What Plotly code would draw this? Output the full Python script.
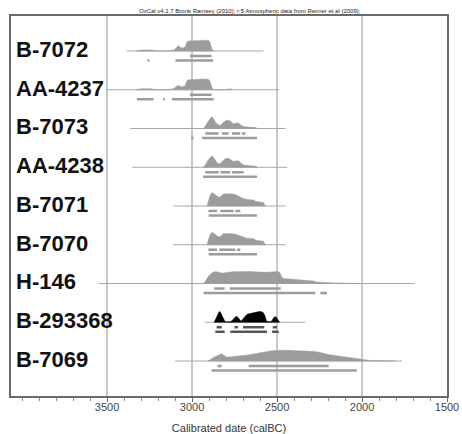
import plotly.graph_objects as go

# ---------------- data ----------------
labels = ["B-7072", "AA-4237", "B-7073", "AA-4238", "B-7071",
          "B-7070", "H-146", "B-293368", "B-7069"]

# extent of the thin baseline of each likelihood (calBC)
line_start = [3385, 3505, 3365, 3355, 3110, 3110, 3550, 2925, 3100]
line_end = [2580, 2485, 2450, 2440, 2450, 2450, 1690, 2335, 1765]

# probability distributions (year, relative density)
b7072_years = [3330, 3300, 3270, 3240, 3215, 3180, 3160, 3140, 3105, 3090, 3080, 3068, 3055,
               3040, 3030, 3020, 3000, 2980, 2960, 2940, 2920, 2905, 2895, 2885, 2875]
b7072_dens = [0, 1, 1, 1, 0, 0, 0.7, 0, 1, 4, 5.5, 3.5, 3,
              4, 9, 10, 10.2, 10.5, 10.5, 11, 11, 10.8, 9, 3, 0]

aa4237_years = [3330, 3300, 3270, 3240, 3215, 3170, 3160, 3150, 3110, 3090, 3080, 3068, 3055,
                3040, 3030, 3020, 3000, 2980, 2960, 2940, 2920, 2905, 2895, 2885, 2875,
                2800, 2790, 2770, 2760]
aa4237_dens = [0, 1, 1, 1, 0, 0, 0.8, 0, 1, 3.5, 4.5, 3, 3,
               4, 9, 10, 10, 10.3, 10.5, 10.8, 10.8, 10.5, 9, 3, 0,
               0, 0.8, 0.8, 0]

b7073_years = [2935, 2922, 2910, 2895, 2885, 2878, 2865, 2850, 2835, 2825, 2810, 2795, 2780,
               2770, 2760, 2750, 2740, 2728, 2718, 2705, 2690, 2670, 2640, 2625, 2615]
b7073_dens = [0, 2, 6, 10, 11.7, 11, 7, 4, 3.3, 4.5, 7, 8.3, 8,
              6.5, 5, 5, 5.5, 5.7, 4, 2.5, 1.7, 1.7, 1.5, 1, 0]

aa4238_years = [2935, 2922, 2910, 2895, 2885, 2878, 2865, 2850, 2835, 2825, 2810, 2795, 2780,
                2770, 2760, 2750, 2740, 2728, 2718, 2705, 2690, 2670, 2640, 2625, 2615]
aa4238_dens = [0, 2, 6, 10, 11.3, 10.8, 7, 4, 3.5, 5, 8, 9, 8.7,
               7, 6, 6, 6.5, 6.7, 5, 3, 2, 1.8, 1.5, 1, 0]

b7071_years = [2912, 2905, 2895, 2885, 2878, 2865, 2850, 2835, 2825, 2815, 2800, 2780,
               2760, 2745, 2730, 2716, 2700, 2676, 2650, 2637, 2625, 2600, 2580, 2568]
b7071_dens = [0, 5, 10, 13, 13.3, 11.5, 9.5, 9, 10.5, 12, 12.3, 12.3,
              12, 11.5, 10, 9, 7.5, 6.5, 6.3, 6, 4.5, 4, 3.5, 0]

b7070_years = [2912, 2905, 2895, 2885, 2878, 2865, 2850, 2835, 2825, 2815, 2800, 2780,
               2760, 2745, 2730, 2716, 2700, 2676, 2650, 2637, 2625, 2600, 2580, 2568]
b7070_dens = [0, 4.5, 9.5, 12, 12.3, 10.5, 8.5, 8, 9.5, 11, 11.3, 11.3,
              11, 10.5, 9.5, 9, 7.5, 6.5, 6.3, 6, 4.5, 4, 3.5, 0]

h146_years = [2935, 2922, 2905, 2892, 2880, 2870, 2860, 2845, 2830, 2815, 2800, 2780, 2760,
              2740, 2720, 2700, 2680, 2660, 2640, 2620, 2600, 2580, 2560, 2540, 2520, 2505,
              2492, 2480, 2471, 2460, 2440, 2420, 2400, 2380, 2360, 2340, 2320, 2304, 2286,
              2270, 2250, 2230, 2210, 2190, 2150, 2100, 2050, 2010]
h146_dens = [0, 2, 7, 9.5, 11, 11.5, 12, 11.3, 10.5, 10.5, 11, 11.5, 11.8,
             11.8, 12, 12, 11.8, 12, 11.7, 11.5, 11.3, 11, 11.2, 11.5, 12, 12.3,
             12, 10, 6, 5, 4.7, 4.5, 4.3, 4.3, 4, 3.5, 3, 2.7, 2.5,
             1.5, 1.2, 1, 1, 0.8, 0.5, 0.4, 0.3, 0]

b293368_years = [2870, 2860, 2850, 2840, 2832, 2822, 2812, 2805, 2775, 2762, 2750, 2740,
                 2730, 2720, 2712, 2702, 2690, 2678, 2665, 2650, 2635, 2620, 2605, 2590,
                 2580, 2570, 2562, 2540, 2530, 2520, 2510, 2500, 2490, 2485]
b293368_dens = [0, 3, 7, 10.7, 10, 6, 2, 0.5, 0.5, 2, 4.5, 6,
                5, 2, 1, 3, 6, 7.7, 8.5, 9, 10, 10.5, 10.7, 10.5,
                9.5, 6, 1, 0.5, 1.5, 4.5, 5.7, 4, 1, 0]

b7069_years = [2905, 2890, 2870, 2855, 2838, 2825, 2815, 2800, 2780, 2760, 2740, 2720, 2700,
               2680, 2660, 2640, 2620, 2600, 2580, 2560, 2540, 2520, 2500, 2480, 2460, 2440,
               2420, 2400, 2380, 2360, 2340, 2320, 2300, 2280, 2260, 2240, 2220, 2200, 2180,
               2160, 2140, 2120, 2100, 2080, 2060, 2040, 2020, 2000, 1980, 1950, 1900, 1850, 1800]
b7069_dens = [0, 2, 4, 5, 6, 7.3, 6, 4, 4, 4.2, 4.5, 5, 5.5,
              5.8, 6.2, 7, 7.5, 8.2, 9, 9.5, 10, 10.3, 10.6, 10.7, 10.8, 10.7,
              10.6, 10.5, 10.4, 10.3, 10.2, 10, 9.8, 9.5, 9, 8.5, 7.5, 6.5, 6,
              5.5, 5, 4.3, 4, 3.5, 3, 2.5, 2, 1.2, 0.8, 0.5, 0.3, 0.2, 0]

dist_years = [b7072_years, aa4237_years, b7073_years, aa4238_years, b7071_years,
              b7070_years, h146_years, b293368_years, b7069_years]
dist_dens = [b7072_dens, aa4237_dens, b7073_dens, aa4238_dens, b7071_dens,
             b7070_dens, h146_dens, b293368_dens, b7069_dens]

# highest-density ranges (from, to) in calBC
range68 = [
    [(3012, 2885)],
    [(3012, 2885)],
    [(2922, 2844), (2824, 2785), (2765, 2716), (2706, 2686)],
    [(2922, 2844), (2833, 2775), (2765, 2696)],
    [(2904, 2853), (2833, 2755), (2745, 2716)],
    [(2904, 2853), (2840, 2745), (2735, 2716)],
    [(2870, 2808), (2778, 2478)],
    [(2855, 2825), (2750, 2730), (2700, 2575), (2525, 2500)],
    [(2850, 2825), (2667, 2196)],
]
range95 = [
    [(3262, 3250), (3098, 2875)],
    [(3324, 3226), (3170, 3160), (3118, 2873)],
    [(3005, 2990), (2941, 2618)],
    [(2935, 2618)],
    [(2902, 2618)],
    [(2902, 2618)],
    [(2932, 2275), (2245, 2206)],
    [(2863, 2808), (2775, 2559), (2529, 2490)],
    [(2885, 2030)],
]
black_rows = ["B-293368"]

x_ticks = [3500, 3000, 2500, 2000, 1500]
title_text = "OxCal v4.1.7 Bronk Ramsey (2010); r:5 Atmospheric data from Reimer et al (2009);"
x_title = "Calibrated date (calBC)"

# ---------------- styling ----------------
ROW_PX = 38.75          # pixel height of one row
DENS_SCALE = 1.0 / ROW_PX
OFF68 = 5 / ROW_PX
OFF95 = 9.5 / ROW_PX
GREY = "#9c9c9c"

fig = go.Figure()

for i, lab in enumerate(labels):
    is_black = lab in black_rows
    fillc = "#000000" if is_black else GREY
    # baseline
    fig.add_trace(go.Scatter(x=[line_start[i], line_end[i]], y=[i, i], mode="lines",
                             line=dict(color="#a8a8a8", width=1), hoverinfo="skip",
                             showlegend=False))
    # distribution
    yrs = dist_years[i]
    dens = dist_dens[i]
    xs = list(yrs) + list(reversed(yrs))
    ys = [i - d * DENS_SCALE for d in dens] + [i] * len(yrs)
    fig.add_trace(go.Scatter(x=xs, y=ys, mode="lines", fill="toself", fillcolor=fillc,
                             line=dict(color=fillc, width=0.5), hoverinfo="skip",
                             showlegend=False))
    barc = "#555555" if is_black else GREY
    for rng, off in ((range68[i], OFF68), (range95[i], OFF95)):
        bx, by = [], []
        for a, b in rng:
            bx += [a, b, None]
            by += [i + off, i + off, None]
        fig.add_trace(go.Scatter(x=bx, y=by, mode="lines",
                                 line=dict(color=barc, width=2.5), hoverinfo="skip",
                                 showlegend=False))
    fig.add_annotation(x=0.007, xref="paper", y=i - 0.04, yref="y", text="<b>%s</b>" % lab,
                       showarrow=False, xanchor="left", yanchor="middle",
                       font=dict(family="Liberation Sans, Arial", size=22, color="#111111"))

fig.add_annotation(x=0.549, xref="paper", y=1.0, yref="paper", yanchor="bottom",
                   text=title_text, showarrow=False,
                   font=dict(family="Liberation Sans, Arial", size=6, color="#222222"))

fig.update_layout(
    width=462, height=434,
    margin=dict(l=11, r=15, t=16, b=38, autoexpand=False),
    paper_bgcolor="white", plot_bgcolor="white",
    font=dict(family="Liberation Sans, Arial", color="#333333"),
    xaxis=dict(range=[4065, 1500], autorange=False, tickvals=x_ticks,
               ticktext=[str(t) for t in x_ticks], automargin=False,
               showgrid=True, gridcolor="#c8c8c8", gridwidth=2,
               showline=True, mirror=True, linecolor="#6a6a6a", linewidth=2,
               ticks="outside", ticklen=4, tickcolor="#666666", tickwidth=1,
               ticklabelstandoff=-4,
               minor=dict(dtick=100, tick0=1500, ticks="outside", ticklen=3,
                          tickcolor="#888888", showgrid=False),
               tickfont=dict(size=11, color="#444444"),
               title=dict(text=x_title, font=dict(size=11, color="#333333"), standoff=14),
               zeroline=False),
    yaxis=dict(range=[(396 - 51) / ROW_PX, (16 - 51) / ROW_PX], autorange=False,
               showticklabels=False, ticks="", showgrid=False, zeroline=False,
               automargin=False,
               showline=True, mirror=True, linecolor="#6a6a6a", linewidth=2),
)

fig.write_html("out.html", config={"displayModeBar": False},
               post_script="document.body.style.margin='0';document.body.style.overflow='hidden';")
